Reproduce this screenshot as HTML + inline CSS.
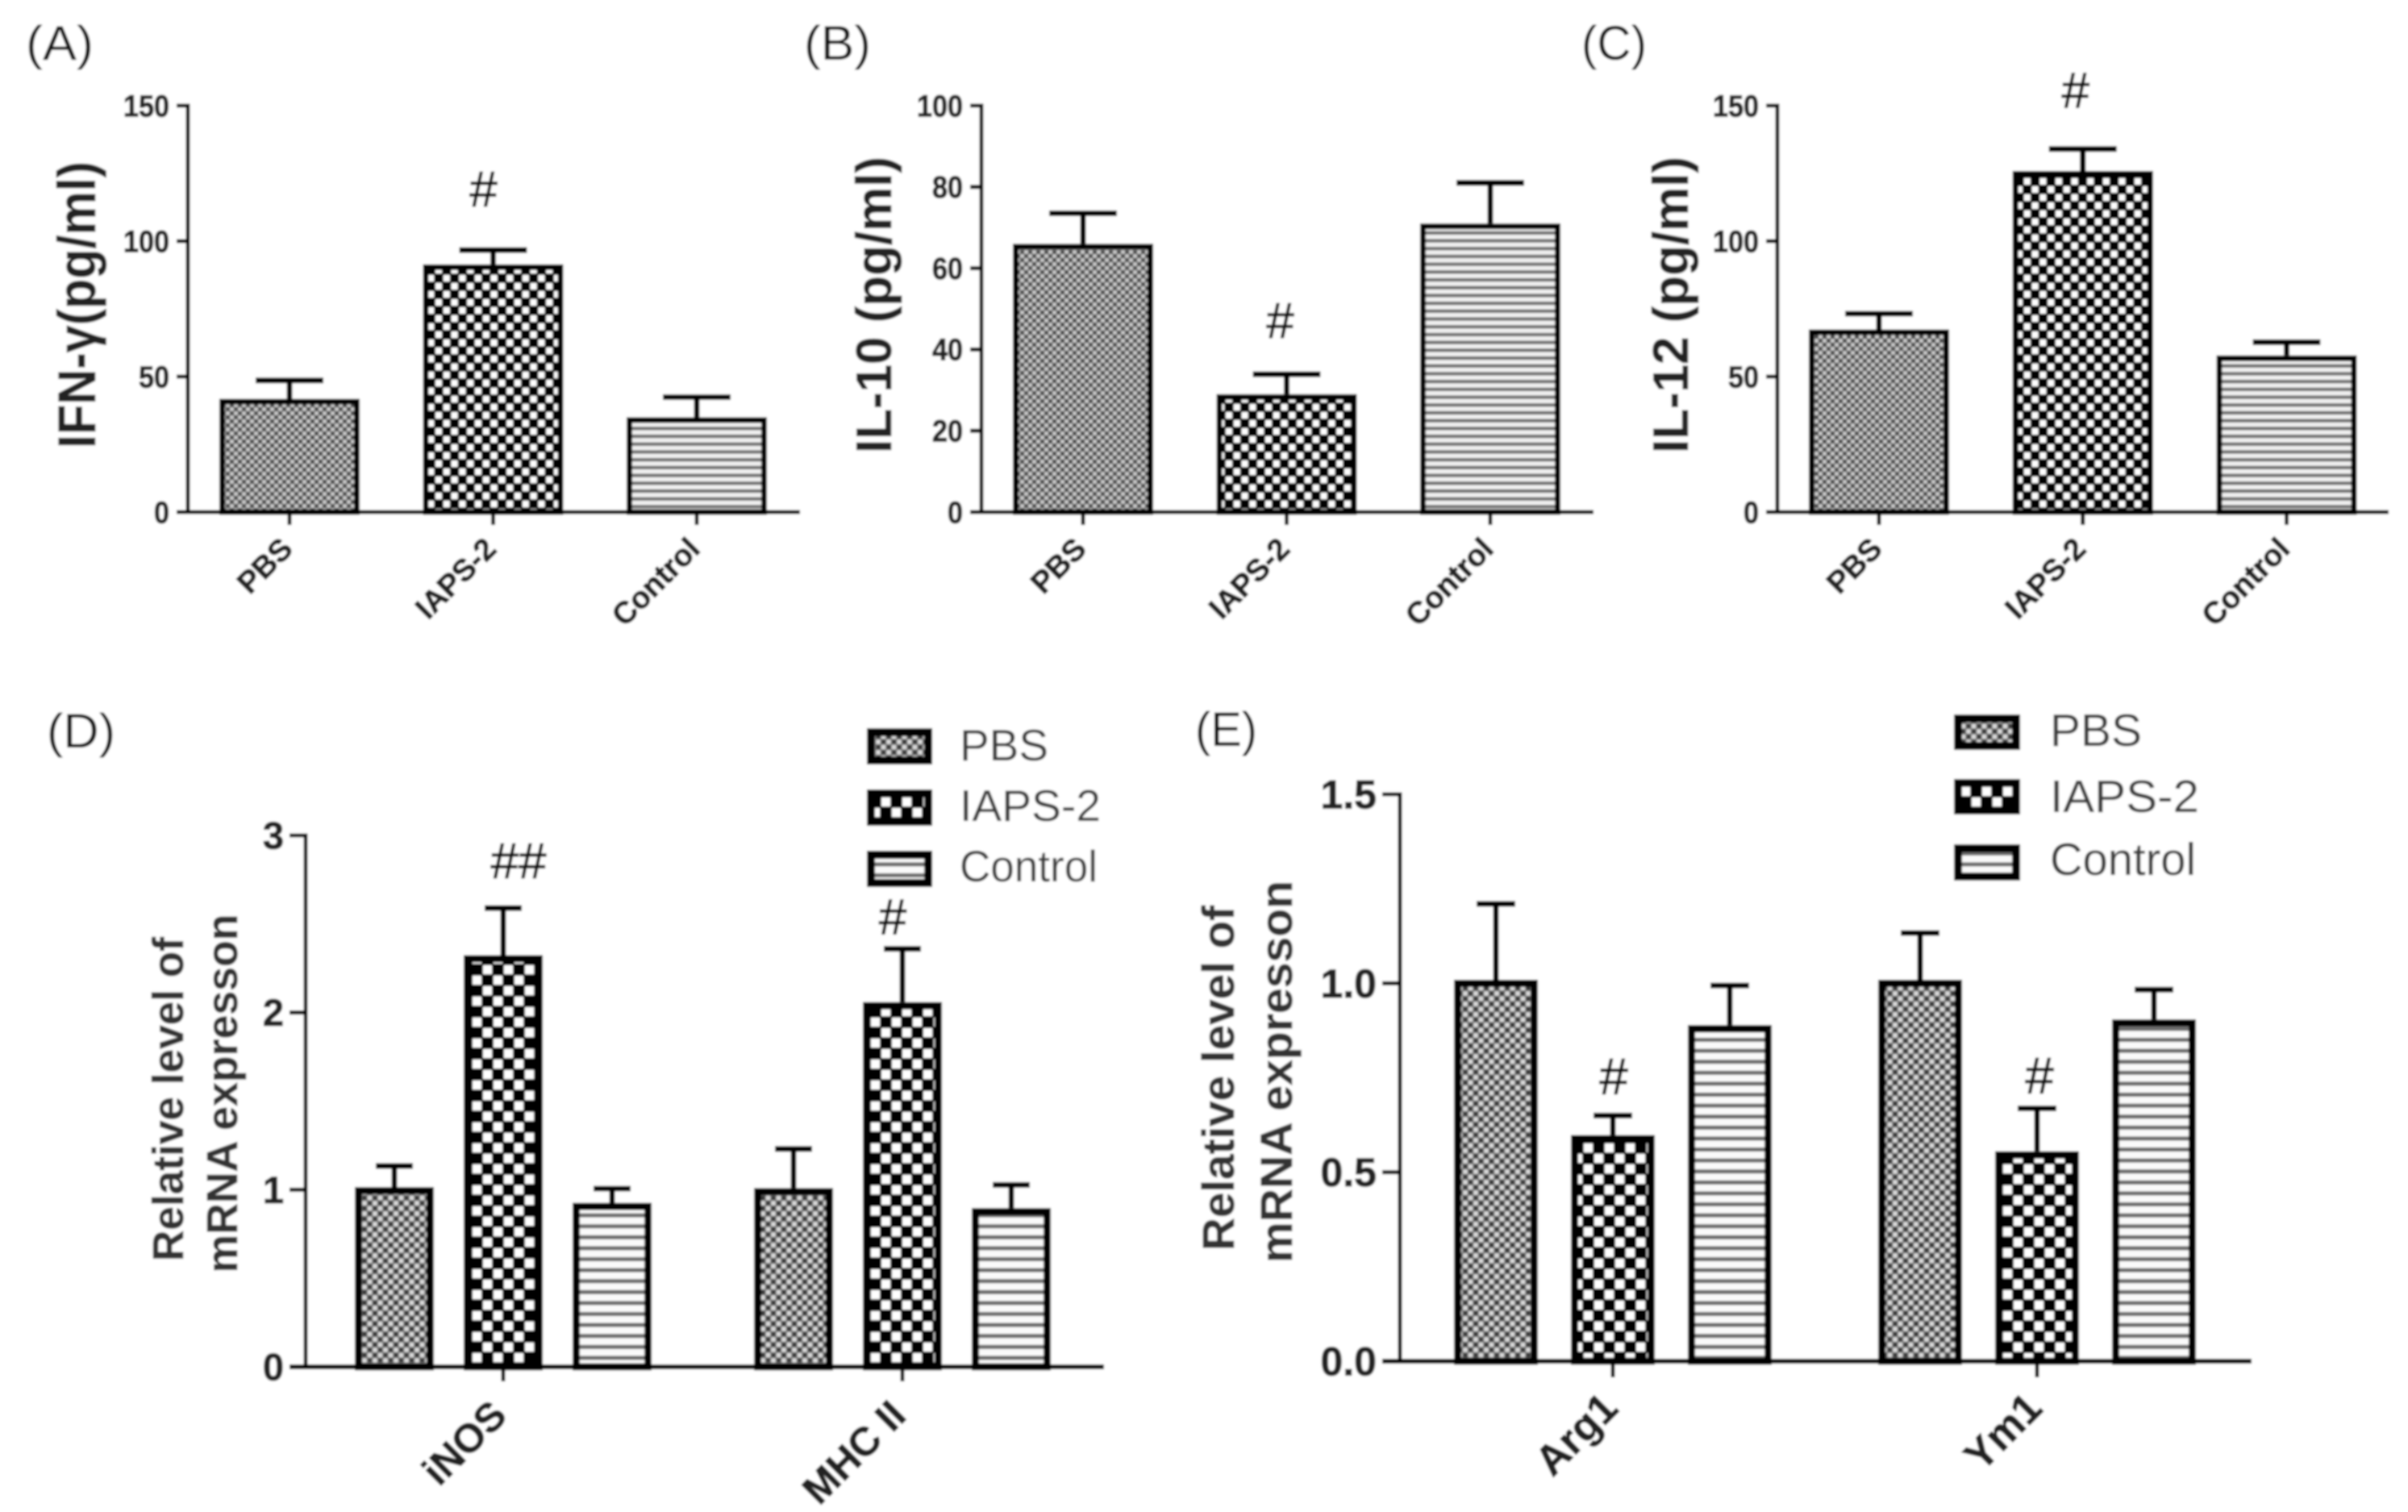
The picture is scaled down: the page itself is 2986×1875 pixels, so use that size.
<!DOCTYPE html>
<html lang="en">
<head>
<meta charset="utf-8">
<title>Cytokine and mRNA expression bar charts</title>
<style>
html,body{margin:0;padding:0;background:#fff;width:2986px;height:1875px;overflow:hidden}
svg{display:block}
text{font-family:"Liberation Sans",Arial,sans-serif}
.bold{font-weight:700;stroke:#222;stroke-width:1}
.title{font-weight:700;fill:#222;text-anchor:middle;stroke:#222;stroke-width:.5}
.letter{fill:#111}
.legend-text{fill:#3a3a3a;font-size:55px}
.sig{stroke:#111;stroke-width:1}
</style>
</head>
<body>
<svg id="figure" xmlns="http://www.w3.org/2000/svg" width="2986" height="1875" viewBox="0 0 2986 1875">
<defs>
<filter id="soft" x="0" y="0" width="100%" height="100%" filterUnits="userSpaceOnUse" primitiveUnits="userSpaceOnUse"><feGaussianBlur stdDeviation="1.3"/></filter>
<pattern id="pbs-small" width="10" height="10" patternUnits="userSpaceOnUse"><rect width="10" height="10" fill="#808080"/><rect x="0.5" y="0.5" width="4" height="4" fill="#cfcfcf"/><rect x="5.5" y="5.5" width="4" height="4" fill="#cfcfcf"/><rect x="5.5" y="0.5" width="4" height="4" fill="#444"/><rect x="0.5" y="5.5" width="4" height="4" fill="#444"/></pattern>
<pattern id="iaps-small" width="19.6" height="20" patternUnits="userSpaceOnUse"><rect width="19.6" height="20" fill="#000"/><rect x="1" y="1" width="8" height="8" fill="#fff"/><rect x="10.8" y="11" width="8" height="8" fill="#fff"/></pattern>
<pattern id="ctrl-small" width="10" height="9.7" patternUnits="userSpaceOnUse"><rect width="10" height="9.7" fill="#f0f0f0"/><rect y="5.4" width="10" height="4.3" fill="#707070"/></pattern>
<pattern id="pbs-large" width="13" height="13" patternUnits="userSpaceOnUse"><rect width="13" height="13" fill="#808080"/><rect x="1" y="1" width="5" height="5" fill="#dcdcdc"/><rect x="7.5" y="7.5" width="5" height="5" fill="#dcdcdc"/><rect x="7.5" y="1" width="5" height="5" fill="#333"/><rect x="1" y="7.5" width="5" height="5" fill="#333"/></pattern>
<pattern id="iaps-large" width="26" height="26" patternUnits="userSpaceOnUse"><rect width="26" height="26" fill="#000"/><rect x="1" y="1" width="11" height="11" fill="#fff"/><rect x="14" y="14" width="11" height="11" fill="#fff"/></pattern>
<pattern id="ctrl-large" width="10" height="13.6" patternUnits="userSpaceOnUse"><rect width="10" height="13.6" fill="#fafafa"/><rect y="8.6" width="10" height="5" fill="#6a6a6a"/></pattern>
</defs>
<g id="root" filter="url(#soft)">
<rect x="0" y="0" width="2986" height="1875" fill="#fff"/>

<text class="letter" x="32" y="74" font-size="60" textLength="84" lengthAdjust="spacingAndGlyphs">(A)</text>
<text class="letter" x="997" y="74" font-size="60" textLength="83" lengthAdjust="spacingAndGlyphs">(B)</text>
<text class="letter" x="1961" y="74" font-size="60" textLength="81" lengthAdjust="spacingAndGlyphs">(C)</text>
<text class="letter" x="58" y="927" font-size="60" textLength="85" lengthAdjust="spacingAndGlyphs">(D)</text>
<text class="letter" x="1482" y="925" font-size="60" textLength="77" lengthAdjust="spacingAndGlyphs">(E)</text>

<text class="title" transform="translate(118 378) rotate(-90)" font-size="66" textLength="356" lengthAdjust="spacingAndGlyphs">IFN-γ(pg/ml)</text>
<text class="title" transform="translate(1105 378) rotate(-90)" font-size="62" textLength="368" lengthAdjust="spacingAndGlyphs">IL-10 (pg/ml)</text>
<text class="title" transform="translate(2093 378) rotate(-90)" font-size="62" textLength="368" lengthAdjust="spacingAndGlyphs">IL-12 (pg/ml)</text>
<text class="title" style="fill:#333;stroke:#333" transform="translate(227 1363) rotate(-90)" font-size="54" textLength="402" lengthAdjust="spacingAndGlyphs">Relative level of</text>
<text class="title" style="fill:#333;stroke:#333" transform="translate(294 1356) rotate(-90)" font-size="54" textLength="445" lengthAdjust="spacingAndGlyphs">mRNA expresson</text>
<text class="title" style="fill:#333;stroke:#333" transform="translate(1530 1337) rotate(-90)" font-size="56" textLength="428" lengthAdjust="spacingAndGlyphs">Relative level of</text>
<text class="title" style="fill:#333;stroke:#333" transform="translate(1602 1329) rotate(-90)" font-size="56" textLength="474" lengthAdjust="spacingAndGlyphs">mRNA expresson</text>

<g>
<rect x="1080" y="908" width="71" height="35" fill="url(#pbs-large)" stroke="#000" stroke-width="10"/>
<text class="legend-text" x="1190" y="943">PBS</text>
<rect x="1080" y="984" width="71" height="35" fill="url(#iaps-large)" stroke="#000" stroke-width="10"/>
<text class="legend-text" x="1190" y="1018" textLength="175" lengthAdjust="spacingAndGlyphs">IAPS-2</text>
<rect x="1080" y="1060" width="71" height="35" fill="url(#ctrl-large)" stroke="#000" stroke-width="10"/>
<text class="legend-text" x="1190" y="1093" textLength="171" lengthAdjust="spacingAndGlyphs">Control</text>
</g>
<g>
<rect x="2428" y="891" width="72" height="34" fill="url(#pbs-large)" stroke="#000" stroke-width="10"/>
<text class="legend-text" x="2542" y="925" style="font-size:57px">PBS</text>
<rect x="2428" y="971" width="72" height="34" fill="url(#iaps-large)" stroke="#000" stroke-width="10"/>
<text class="legend-text" x="2542" y="1007" style="font-size:57px" textLength="185" lengthAdjust="spacingAndGlyphs">IAPS-2</text>
<rect x="2428" y="1052" width="72" height="35" fill="url(#ctrl-large)" stroke="#000" stroke-width="10"/>
<text class="legend-text" x="2542" y="1085" style="font-size:57px" textLength="181" lengthAdjust="spacingAndGlyphs">Control</text>
</g>
<g id="charts"></g>
</g>
</svg>
<script>
// ---- Panel A: IFN-gamma ----
const categoriesA = ['PBS', 'IAPS-2', 'Control'];
const valuesA = [41.2, 90.8, 34.4];
const errorTopsA = [48.6, 96.7, 42.4];
const tickValuesA = [0, 50, 100, 150];
const tickLabelsA = ['0', '50', '100', '150'];
const sigLabelsA = ['', '#', ''];

// ---- Panel B: IL-10 ----
const categoriesB = ['PBS', 'IAPS-2', 'Control'];
const valuesB = [65.6, 28.6, 70.6];
const errorTopsB = [73.5, 33.9, 81];
const tickValuesB = [0, 20, 40, 60, 80, 100];
const tickLabelsB = ['0', '20', '40', '60', '80', '100'];
const sigLabelsB = ['', '#', ''];

// ---- Panel C: IL-12 ----
const categoriesC = ['PBS', 'IAPS-2', 'Control'];
const valuesC = [66.8, 125.3, 57.2];
const errorTopsC = [73.2, 134, 62.7];
const tickValuesC = [0, 50, 100, 150];
const tickLabelsC = ['0', '50', '100', '150'];
const sigLabelsC = ['', '#', ''];

// ---- Panel D: iNOS / MHC II ----
const groupsD = ['iNOS', 'MHC II'];
const seriesNames = ['PBS', 'IAPS-2', 'Control'];
const valuesD = [[1.006, 2.315, 0.917], [1.0, 2.05, 0.887]];
const errorTopsD = [[1.134, 2.59, 1.006], [1.23, 2.36, 1.027]];
const tickValuesD = [0, 1, 2, 3];
const tickLabelsD = ['0', '1', '2', '3'];
const sigLabelsD = [['', '##', ''], ['', '#', '']];

// ---- Panel E: Arg1 / Ym1 ----
const groupsE = ['Arg1', 'Ym1'];
const valuesE = [[1.005, 0.594, 0.885], [1.005, 0.551, 0.9]];
const errorTopsE = [[1.21, 0.65, 0.994], [1.133, 0.669, 0.983]];
const tickValuesE = [0, 0.5, 1, 1.5];
const tickLabelsE = ['0.0', '0.5', '1.0', '1.5'];
const sigLabelsE = [['', '#', ''], ['', '#', '']];

const NS = 'http://www.w3.org/2000/svg';
const chartsRoot = document.getElementById('charts');

function mk(parent, tag, attrs, txt) {
  const el = document.createElementNS(NS, tag);
  for (const k in attrs) el.setAttribute(k, attrs[k]);
  if (txt !== undefined) el.textContent = txt;
  parent.appendChild(el);
  return el;
}

function drawAxes(g, L, tickValues, tickLabels, tickMax) {
  const yScale = function (v) { return L.y0 - v / tickMax * (L.y0 - L.yTop); };

  const yAxis = mk(g, 'line', { x1: L.axisX, x2: L.axisX, y1: L.yTop - L.yAxisW / 2, y2: L.y0, stroke: '#000', 'stroke-width': L.yAxisW });
  
  

  const xAxis = mk(g, 'line', { x1: L.axisX - L.tickLen, x2: L.axisRight, y1: L.y0, y2: L.y0, stroke: '#000', 'stroke-width': L.xAxisW });
  
  

  tickValues.forEach(function (v, i) {
    const y = yScale(v);
    const tick = mk(g, 'line', { x1: L.axisX - L.tickLen, x2: L.axisX, y1: y, y2: y, stroke: '#000', 'stroke-width': L.tickW });
    
    

    const label = mk(g, 'text', {
      transform: 'translate(' + (L.axisX - L.labelGap) + ' ' + (y + L.tickFont * 0.35) + ') scale(' + L.tickScale + ' 1)',
      'text-anchor': 'end', 'font-size': L.tickFont, 'class': 'bold', fill: '#222'
    }, tickLabels[i]);
    
    
  });
  return yScale;
}

function drawBar(g, L, yScale, cx, value, errTop, seriesIdx, name) {
  const patterns = L.patterns;
  const top = yScale(value) - 2;
  const half = L.barW / 2;
  const sw = L.barStroke;

  const stem = mk(g, 'line', { x1: cx, x2: cx, y1: yScale(errTop), y2: top, stroke: '#000', 'stroke-width': L.errW });
  
  

  const cap = mk(g, 'line', { x1: cx - L.capHalf, x2: cx + L.capHalf, y1: yScale(errTop), y2: yScale(errTop), stroke: '#000', 'stroke-width': L.errW });
  
  

  const bar = mk(g, 'rect', {
    x: cx - half + sw / 2, y: top + sw / 2,
    width: L.barW - sw, height: Math.max(0, L.y0 - top - sw / 2),
    fill: 'url(#' + patterns[seriesIdx] + ')', stroke: '#000', 'stroke-width': sw
  });
  
  
}

function drawSig(g, L, yScale, cx, errTop, sig, off) {
  if (!sig) return;
  const mark = mk(g, 'text', {
    x: cx + off[0], y: yScale(errTop) - off[1] + L.sigFont * 0.35,
    'text-anchor': 'middle', 'font-size': L.sigFont, fill: '#111', 'class': 'sig'
  }, sig);
  
  
}

function drawXLabel(g, L, cx, text) {
  const tick = mk(g, 'line', { x1: cx, x2: cx, y1: L.y0, y2: L.y0 + L.xTickLen, stroke: '#000', 'stroke-width': L.tickW });
  
  

  const label = mk(g, 'text', {
    transform: 'translate(' + (cx + L.xLabelDx) + ' ' + L.xLabelY + ') rotate(-45)',
    'text-anchor': 'end', 'font-size': L.xFont, 'class': 'bold', fill: '#222'
  }, text);
  
  
}

function drawSimple(id, L, cats, vals, errs, tickValues, tickLabels, sigs) {
  const g = mk(chartsRoot, 'g', {});
  
  
  const yScale = drawAxes(g, L, tickValues, tickLabels, tickValues[tickValues.length - 1]);
  cats.forEach(function (c, i) {
    const cx = L.firstX + i * L.stepX;
    drawBar(g, L, yScale, cx, vals[i], errs[i], i, c);
    drawXLabel(g, L, cx, c);
    drawSig(g, L, yScale, cx, errs[i], sigs[i], L.sigOffset);
  });
}

function drawGrouped(id, L, groups, vals, errs, tickValues, tickLabels, sigs) {
  const g = mk(chartsRoot, 'g', {});
  
  
  const yScale = drawAxes(g, L, tickValues, tickLabels, tickValues[tickValues.length - 1]);
  groups.forEach(function (grp, gi) {
    const gx = L.firstX + gi * L.stepX;
    seriesNames.forEach(function (s, si) {
      const cx = gx + (si - 1) * L.innerStep;
      drawBar(g, L, yScale, cx, vals[gi][si], errs[gi][si], si, grp + '-' + s);
      drawSig(g, L, yScale, cx, errs[gi][si], sigs[gi][si], L.sigOffsets[gi]);
    });
    drawXLabel(g, L, gx, grp);
  });
}

const smallBase = {
  y0: 635, yTop: 131, tickLen: 14, xTickLen: 16, yAxisW: 5, xAxisW: 5, tickW: 5,
  labelGap: 23, tickFont: 38, tickScale: 0.9, barStroke: 7, errW: 7, capHalf: 42,
  barW: 174, stepX: 252.5, xFont: 38, xLabelDx: 6, xLabelY: 683, sigFont: 62,
  patterns: ['pbs-small', 'iaps-small', 'ctrl-small']
};
const largeBase = {
  tickLen: 20, yAxisW: 5, xAxisW: 6, tickW: 5, labelGap: 27, tickFont: 47, tickScale: 1,
  barStroke: 9, errW: 7, capHalf: 23, sigFont: 60,
  patterns: ['pbs-large', 'iaps-large', 'ctrl-large']
};

drawSimple('a', Object.assign({}, smallBase, { axisX: 233, axisRight: 992, firstX: 359, sigOffset: [-12, 76] }),
  categoriesA, valuesA, errorTopsA, tickValuesA, tickLabelsA, sigLabelsA);
drawSimple('b', Object.assign({}, smallBase, { axisX: 1217, axisRight: 1976, firstX: 1343, sigOffset: [-8, 67] }),
  categoriesB, valuesB, errorTopsB, tickValuesB, tickLabelsB, sigLabelsB);
drawSimple('c', Object.assign({}, smallBase, { axisX: 2204, axisRight: 2962, firstX: 2330, stepX: 252.75, sigOffset: [-9, 73] }),
  categoriesC, valuesC, errorTopsC, tickValuesC, tickLabelsC, sigLabelsC);
drawGrouped('d', Object.assign({}, largeBase, {
  y0: 1695, yTop: 1036, axisX: 379, axisRight: 1369, firstX: 624, stepX: 495, innerStep: 135,
  barW: 98, xTickLen: 18, xFont: 50, xLabelDx: 7, xLabelY: 1758,
  sigOffsets: [[19, 59], [-12, 40]], sigFont: 62
}), groupsD, valuesD, errorTopsD, tickValuesD, tickLabelsD, sigLabelsD);
drawGrouped('e', Object.assign({}, largeBase, {
  y0: 1688, yTop: 985, axisX: 1736, axisRight: 2792, firstX: 2000, stepX: 526, innerStep: 145,
  barW: 104, capHalf: 24, xTickLen: 20, tickLen: 22, tickFont: 50, labelGap: 29, xFont: 52, xLabelDx: 9, xLabelY: 1749,
  sigOffsets: [[1, 49], [3, 41]], sigFont: 64
}), groupsE, valuesE, errorTopsE, tickValuesE, tickLabelsE, sigLabelsE);
</script>
</body>
</html>
